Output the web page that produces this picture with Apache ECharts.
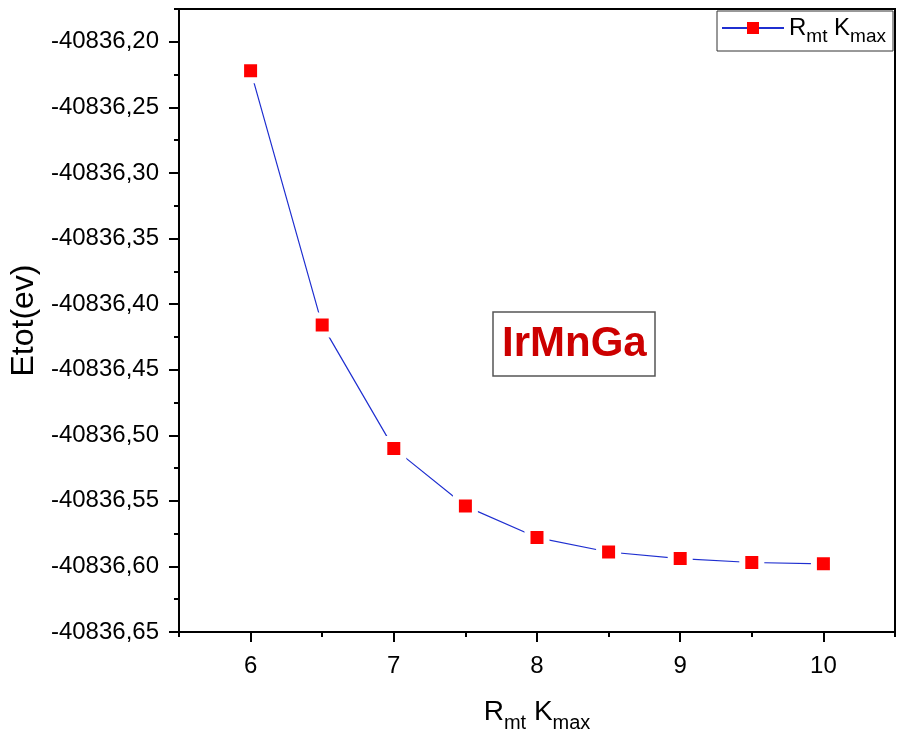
<!DOCTYPE html>
<html>
<head>
<meta charset="utf-8">
<script src="https://cdn.jsdelivr.net/npm/echarts@6/dist/echarts.min.js"></script>
<style>
  html, body { margin: 0; padding: 0; background: #fff; }
  #chart { width: 897px; height: 738px; }
</style>
</head>
<body>
<div id="chart"></div>
<script>
// Total energy convergence against the plane-wave cutoff product Rmt*Kmax
const rktValues = [6, 6.5, 7, 7.5, 8, 8.5, 9, 9.5, 10];
const etotValues = [-40836.222, -40836.416, -40836.510, -40836.554, -40836.578,
                    -40836.589, -40836.594, -40836.597, -40836.598];

const xMajorTicks = [6, 7, 8, 9, 10];
const xMinorTicks = [5.5, 6.5, 7.5, 8.5, 9.5, 10.5];
const yMajorTicks = [-40836.20, -40836.25, -40836.30, -40836.35, -40836.40,
                     -40836.45, -40836.50, -40836.55, -40836.60, -40836.65];
const yMinorTicks = [-40836.175, -40836.225, -40836.275, -40836.325, -40836.375,
                     -40836.425, -40836.475, -40836.525, -40836.575, -40836.625];

const compoundName = 'IrMnGa';
const seriesName = 'RmtKmax';

const FONT = "'Liberation Sans', Arial, sans-serif";
const X_MIN = 5.5, X_MAX = 10.5;
const Y_MIN = -40836.65, Y_MAX = -40836.175;

const chart = echarts.init(document.getElementById('chart'), null, { renderer: 'canvas' });

// Rich styles for "R_mt K_max": the main glyphs sit centred in a tall line,
// the subscripts hug the bottom of that line so they drop below the baseline.
const subscriptRich = (size, lineH, subSize, subLineH) => ({
  m: { fontFamily: FONT, fontSize: size, color: '#000', lineHeight: lineH, verticalAlign: 'middle' },
  s: { fontFamily: FONT, fontSize: subSize, color: '#000', lineHeight: subLineH, verticalAlign: 'bottom' }
});
const cutoffLabel = '{m|R}{s|mt}{m| K}{s|max}';

chart.setOption({
  animation: false,
  backgroundColor: '#fff',
  title: {
    text: compoundName,
    left: 493,
    top: 312,
    padding: [9, 9, 9, 9],
    backgroundColor: '#fff',
    borderColor: '#555',
    borderWidth: 1.5,
    textStyle: {
      fontFamily: FONT,
      fontSize: 42,
      fontWeight: 'bold',
      color: '#cc0000',
      lineHeight: 46
    }
  },
  legend: {
    data: [seriesName],
    left: 717,
    top: 11,
    padding: [5, 7, 5, 4],
    itemWidth: 62,
    itemHeight: 15,
    borderColor: '#333',
    borderWidth: 1,
    backgroundColor: '#fff',
    itemStyle: { borderWidth: 0 },
    formatter: () => cutoffLabel,
    textStyle: { rich: subscriptRich(24, 36, 19, 19.5) }
  },
  grid: {
    left: 178,
    top: 9,
    right: 2,
    bottom: 106,
    show: true,
    borderColor: '#000',
    borderWidth: 2,
    containLabel: false
  },
  xAxis: [
    {
      type: 'value',
      min: X_MIN,
      max: X_MAX,
      name: cutoffLabel,
      nameLocation: 'middle',
      nameGap: 59,
      nameTextStyle: { rich: subscriptRich(28, 42, 20, 21.5) },
      axisLine: { show: true, lineStyle: { color: '#000', width: 2 } },
      axisTick: { show: true, inside: false, length: 10, customValues: xMajorTicks,
                  lineStyle: { color: '#000', width: 2 } },
      axisLabel: { show: true, customValues: xMajorTicks, margin: 22,
                   fontFamily: FONT, fontSize: 24, color: '#000',
                   formatter: v => String(v) },
      splitLine: { show: false }
    },
    {
      type: 'value',
      min: X_MIN,
      max: X_MAX,
      position: 'bottom',
      axisLine: { show: false },
      axisTick: { show: true, inside: false, length: 5, customValues: xMinorTicks,
                  lineStyle: { color: '#000', width: 2 } },
      axisLabel: { show: false },
      splitLine: { show: false }
    }
  ],
  yAxis: [
    {
      type: 'value',
      min: Y_MIN,
      max: Y_MAX,
      name: 'Etot(ev)',
      nameLocation: 'middle',
      nameGap: 123,
      nameTextStyle: { fontFamily: FONT, fontSize: 32, color: '#000' },
      axisLine: { show: true, lineStyle: { color: '#000', width: 2 } },
      axisTick: { show: true, inside: false, length: 10, customValues: yMajorTicks,
                  lineStyle: { color: '#000', width: 2 } },
      axisLabel: { show: true, customValues: yMajorTicks, margin: 20,
                   fontFamily: FONT, fontSize: 24, color: '#000',
                   formatter: v => v.toFixed(2).replace('.', ',') },
      splitLine: { show: false }
    },
    {
      type: 'value',
      min: Y_MIN,
      max: Y_MAX,
      position: 'left',
      axisLine: { show: false },
      axisTick: { show: true, inside: false, length: 5, customValues: yMinorTicks,
                  lineStyle: { color: '#000', width: 2 } },
      axisLabel: { show: false },
      splitLine: { show: false }
    }
  ],
  series: [
    {
      name: seriesName,
      type: 'line',
      xAxisIndex: 0,
      yAxisIndex: 0,
      data: rktValues.map((x, i) => [x, etotValues[i]]),
      symbol: 'rect',
      symbolSize: 19,
      itemStyle: { color: '#ff0000', borderColor: '#ffffff', borderWidth: 6 },
      lineStyle: { color: '#1f2fd0', width: 1.2 },
      emphasis: { disabled: true },
      z: 3
    }
  ]
});
</script>
</body>
</html>
